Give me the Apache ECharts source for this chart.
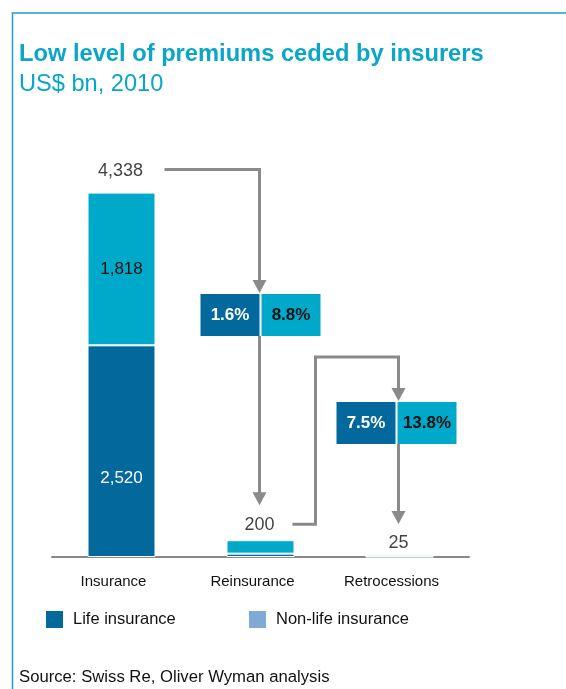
<!DOCTYPE html>
<html>
<head>
<meta charset="utf-8">
<script src="https://cdn.jsdelivr.net/npm/echarts@6/dist/echarts.min.js"></script>
<style>
  html, body { margin: 0; padding: 0; background: #fff; }
  #chart { width: 566px; height: 689px; }
</style>
</head>
<body>
<div id="chart"></div>
<script>
var chart = echarts.init(document.getElementById('chart'));

// data
var categories = ['Insurance', 'Reinsurance', 'Retrocessions'];
var lifeValues = [2520, 40, 3];
var nonLifeValues = [1818, 160, 22];
var totals = [4338, 200, 25];
var lifeShares = ['1.6%', '7.5%'];
var nonLifeShares = ['8.8%', '13.8%'];

var lifeColor = '#03699d';
var nonLifeColor = '#00a9c9';
var teal = '#0aa6c8';
var arrowColor = '#8a8a8a';

var totalOffsets = [-22, -15, -12];

option = {
    animation: false,
    title: {
        text: 'Low level of premiums ceded by insurers',
        subtext: 'US$ bn, 2010',
        left: 14,
        top: 37,
        itemGap: 6,
        textStyle: { fontFamily: 'Liberation Sans, Arial', fontSize: 23.7, fontWeight: 'bold', color: teal },
        subtextStyle: { fontFamily: 'Liberation Sans, Arial', fontSize: 23.6, color: teal }
    },
    grid: { left: 52, right: 97, top: 137, bottom: 132 },
    xAxis: {
        type: 'category',
        data: categories,
        axisTick: { show: false },
        axisLine: { lineStyle: { color: '#888', width: 2 } },
        axisLabel: {
            interval: 0,
            margin: 17,
            padding: [0, 16, 0, 0],
            fontFamily: 'Liberation Sans, Arial',
            fontSize: 15,
            color: '#111'
        }
    },
    yAxis: { type: 'value', min: 0, max: 5000, show: false, splitLine: { show: false } },
    legend: [
        {
            data: ['Life insurance'],
            left: 39, top: 604,
            icon: 'rect', itemWidth: 19, itemHeight: 19,
            textStyle: { fontFamily: 'Liberation Sans, Arial', fontSize: 16.5, color: '#111', padding: [0, 0, 0, 4] }
        },
        {
            data: [{ name: 'Non-life insurance', itemStyle: { color: '#80aad3' } }],
            left: 242, top: 604,
            icon: 'rect', itemWidth: 19, itemHeight: 19,
            textStyle: { fontFamily: 'Liberation Sans, Arial', fontSize: 16.5, color: '#111', padding: [0, 0, 0, 4] }
        }
    ],
    series: [
        {
            name: 'Life insurance',
            type: 'bar',
            stack: 'p',
            barWidth: 68,
            itemStyle: { color: lifeColor, borderColor: '#fff', borderWidth: 1 },
            data: lifeValues.map(function (v, i) {
                return {
                    value: v,
                    label: {
                        show: i === 0, position: 'inside', offset: [0, 27],
                        formatter: function (p) { return p.value.toLocaleString('en-US'); },
                        fontFamily: 'Liberation Sans, Arial', fontSize: 17, color: '#fff'
                    }
                };
            })
        },
        {
            name: 'Non-life insurance',
            type: 'bar',
            stack: 'p',
            barWidth: 68,
            itemStyle: { color: nonLifeColor, borderColor: '#fff', borderWidth: 1 },
            data: nonLifeValues.map(function (v, i) {
                return {
                    value: v,
                    label: {
                        show: i === 0, position: 'inside',
                        formatter: function (p) { return p.value.toLocaleString('en-US'); },
                        fontFamily: 'Liberation Sans, Arial', fontSize: 17, color: '#111'
                    }
                };
            })
        },
        {
            name: 'total',
            type: 'scatter',
            symbolSize: 0,
            silent: true,
            data: totals.map(function (v, i) {
                return {
                    value: [i, v],
                    label: {
                        show: true, position: 'inside', offset: [-1, totalOffsets[i]],
                        formatter: v.toLocaleString('en-US'),
                        fontFamily: 'Liberation Sans, Arial', fontSize: 18, color: '#111'
                    }
                };
            })
        }
    ]
};

chart.setOption(option);

// annotations: arrows and share boxes, anchored to the axes
function px(i, v) { return chart.convertToPixel({ gridIndex: 0 }, [i, v]); }

function arrow(points) {
    var tip = points[points.length - 1];
    var headH = 13, headW = 14;
    var line = points.slice();
    line[line.length - 1] = [tip[0], tip[1] - headH + 1];
    return [
        { type: 'polyline', shape: { points: line }, style: { stroke: arrowColor, lineWidth: 3, fill: null }, z: 10 },
        { type: 'polygon', shape: { points: [[tip[0] - headW / 2, tip[1] - headH], [tip[0] + headW / 2, tip[1] - headH], [tip[0], tip[1]]] },
          style: { fill: arrowColor }, z: 10 }
    ];
}

function shareBox(cx, top, lifeText, nonLifeText) {
    var h = 42, w = 59;
    var font = 'bold 17px "Liberation Sans", Arial';
    return [
        { type: 'rect', shape: { x: cx - w - 1, y: top, width: w, height: h }, style: { fill: lifeColor }, z: 11 },
        { type: 'rect', shape: { x: cx + 1, y: top, width: w, height: h }, style: { fill: nonLifeColor }, z: 11 },
        { type: 'text', x: cx - w / 2 - 1, y: top + h / 2, style: { text: lifeText, font: font, fill: '#fff', align: 'center', verticalAlign: 'middle' }, z: 12 },
        { type: 'text', x: cx + w / 2 + 1, y: top + h / 2, style: { text: nonLifeText, font: font, fill: '#111', align: 'center', verticalAlign: 'middle' }, z: 12 }
    ];
}

var c0 = px(0, 0)[0], c1 = px(1, 0)[0], c2 = px(2, 0)[0];
var yTop0 = px(0, totals[0])[1];
var yTop1 = px(1, totals[1])[1];
var yTop2 = px(2, totals[2])[1];
var box1Top = 294, box2Top = 402, boxH = 42;
var a1 = c1 - 1, a2 = c2 - 1;

var elements = [];
elements = elements.concat(arrow([[c0 + 43, yTop0 - 23], [a1, yTop0 - 23], [a1, box1Top - 1]]));
elements = elements.concat(arrow([[a1, box1Top + boxH], [a1, yTop1 - 35]]));
elements = elements.concat(arrow([[c1 + 32, yTop1 - 16], [c1 + 55, yTop1 - 16], [c1 + 55, 357], [a2, 357], [a2, box2Top - 1]]));
elements = elements.concat(arrow([[a2, box2Top + boxH], [a2, yTop2 - 31]]));
elements = elements.concat(shareBox(c1, box1Top, lifeShares[0], nonLifeShares[0]));
elements = elements.concat(shareBox(c2 - 3, box2Top, lifeShares[1], nonLifeShares[1]));

// frame and source
elements.push({ type: 'polyline', shape: { points: [[12.5, 689], [12.5, 13], [566, 13]] }, style: { stroke: '#1aa0bf', lineWidth: 1.5, fill: null } });
elements.push({ type: 'text', x: 19, y: 677, style: { text: 'Source: Swiss Re, Oliver Wyman analysis', font: '16.7px "Liberation Sans", Arial', fill: '#111', verticalAlign: 'middle' } });

chart.setOption({ graphic: { elements: elements } });
</script>
</body>
</html>
